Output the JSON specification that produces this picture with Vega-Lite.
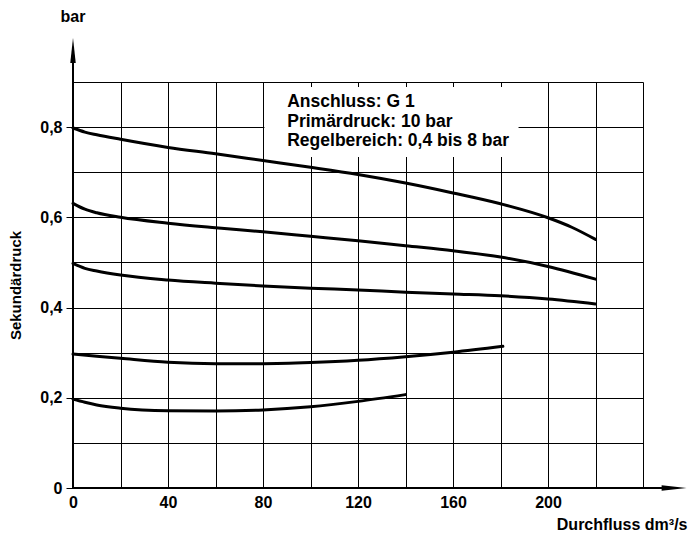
{
  "$schema": "https://vega.github.io/schema/vega-lite/v6.json",
  "width": 570,
  "height": 406,
  "autosize": {"type": "none"},
  "padding": {"left": 73, "top": 82, "right": 47, "bottom": 48},
  "background": "white",
  "config": {
    "view": {"stroke": null},
    "font": "Liberation Sans",
    "axis": {
      "labelFont": "Liberation Sans",
      "titleFont": "Liberation Sans",
      "labelFontWeight": "bold",
      "titleFontWeight": "bold",
      "labelFontSize": 16,
      "titleFontSize": 16,
      "labelColor": "black",
      "titleColor": "black",
      "gridColor": "black",
      "gridOpacity": 1,
      "gridWidth": 1,
      "domain": false
    }
  },
  "datasets": {
    "curves": [
      {"s": "a", "x": 0, "y": 0.798}, {"s": "a", "x": 5, "y": 0.789}, {"s": "a", "x": 10, "y": 0.783}, {"s": "a", "x": 20, "y": 0.773}, {"s": "a", "x": 40, "y": 0.755}, {"s": "a", "x": 60, "y": 0.741}, {"s": "a", "x": 80, "y": 0.726}, {"s": "a", "x": 100, "y": 0.711}, {"s": "a", "x": 120, "y": 0.695}, {"s": "a", "x": 140, "y": 0.676}, {"s": "a", "x": 160, "y": 0.654}, {"s": "a", "x": 180, "y": 0.630}, {"s": "a", "x": 200, "y": 0.599}, {"s": "a", "x": 210, "y": 0.578}, {"s": "a", "x": 220, "y": 0.551},
      {"s": "b", "x": 0, "y": 0.631}, {"s": "b", "x": 5, "y": 0.618}, {"s": "b", "x": 10, "y": 0.610}, {"s": "b", "x": 20, "y": 0.600}, {"s": "b", "x": 40, "y": 0.587}, {"s": "b", "x": 60, "y": 0.577}, {"s": "b", "x": 80, "y": 0.568}, {"s": "b", "x": 100, "y": 0.558}, {"s": "b", "x": 120, "y": 0.548}, {"s": "b", "x": 140, "y": 0.537}, {"s": "b", "x": 160, "y": 0.526}, {"s": "b", "x": 180, "y": 0.512}, {"s": "b", "x": 200, "y": 0.491}, {"s": "b", "x": 220, "y": 0.463},
      {"s": "c", "x": 0, "y": 0.498}, {"s": "c", "x": 5, "y": 0.487}, {"s": "c", "x": 10, "y": 0.481}, {"s": "c", "x": 20, "y": 0.472}, {"s": "c", "x": 40, "y": 0.461}, {"s": "c", "x": 60, "y": 0.454}, {"s": "c", "x": 80, "y": 0.448}, {"s": "c", "x": 100, "y": 0.443}, {"s": "c", "x": 120, "y": 0.439}, {"s": "c", "x": 140, "y": 0.434}, {"s": "c", "x": 160, "y": 0.430}, {"s": "c", "x": 180, "y": 0.426}, {"s": "c", "x": 200, "y": 0.419}, {"s": "c", "x": 220, "y": 0.408},
      {"s": "d", "x": 0, "y": 0.297}, {"s": "d", "x": 10, "y": 0.292}, {"s": "d", "x": 20, "y": 0.2875}, {"s": "d", "x": 40, "y": 0.279}, {"s": "d", "x": 60, "y": 0.2757}, {"s": "d", "x": 80, "y": 0.2755}, {"s": "d", "x": 100, "y": 0.278}, {"s": "d", "x": 120, "y": 0.283}, {"s": "d", "x": 140, "y": 0.291}, {"s": "d", "x": 160, "y": 0.301}, {"s": "d", "x": 181, "y": 0.314},
      {"s": "e", "x": 0, "y": 0.197}, {"s": "e", "x": 5, "y": 0.19}, {"s": "e", "x": 10, "y": 0.184}, {"s": "e", "x": 20, "y": 0.177}, {"s": "e", "x": 40, "y": 0.1715}, {"s": "e", "x": 60, "y": 0.1707}, {"s": "e", "x": 80, "y": 0.173}, {"s": "e", "x": 100, "y": 0.180}, {"s": "e", "x": 120, "y": 0.192}, {"s": "e", "x": 140, "y": 0.207}
    ],
    "box": [{"x": 80.6, "x2": 187.6, "y": 0.889, "y2": 0.734}],
    "notes": [
      {"x": 90.2, "y": 0.8454, "t": "Anschluss: G 1"},
      {"x": 90.2, "y": 0.801, "t": "Primärdruck: 10 bar"},
      {"x": 90.2, "y": 0.758, "t": "Regelbereich: 0,4 bis 8 bar"}
    ],
    "unit": [{"x": 0, "y": 1.033, "t": "bar"}],
    "axlines": [
      {"x": 0, "x2": 248, "y": 0, "y2": 0},
      {"x": 0, "x2": 0, "y": 0, "y2": 0.942}
    ],
    "arrows": [
      {"x": 0, "y": 0.970, "dir": "up"},
      {"x": 253.1, "y": 0, "dir": "right"}
    ]
  },
  "encoding": {
    "x": {
      "field": "x", "type": "quantitative",
      "scale": {"domain": [0, 240], "nice": false, "zero": false},
      "axis": {
        "values": [0, 20, 40, 60, 80, 100, 120, 140, 160, 180, 200, 220, 240],
        "labelExpr": "datum.value % 40 == 0 && datum.value <= 200 ? datum.label : ''",
        "ticks": false,
        "labelPadding": 6,
        "labelFlush": false,
        "grid": true,
        "title": "Durchfluss dm³/s",
        "titleX": 614,
        "titleY": 41,
        "titleAlign": "right",
        "titleBaseline": "alphabetic",
        "titleAnchor": null
      }
    },
    "y": {
      "field": "y", "type": "quantitative",
      "scale": {"domain": [0, 0.9], "nice": false, "zero": false},
      "axis": {
        "values": [0, 0.1, 0.2, 0.3, 0.4, 0.5, 0.6, 0.7, 0.8, 0.9],
        "labelExpr": "round(datum.value*10) == 0 ? '0' : (round(datum.value*10) % 2 == 0 && datum.value < 0.85 ? replace(format(datum.value, '.1f'), '.', ',') : '')",
        "tickColor": {"condition": {"test": "round(datum.value*10) % 2 == 0 && datum.value < 0.85", "value": "black"}, "value": "transparent"},
        "tickSize": 7,
        "tickWidth": 1,
        "labelPadding": 4,
        "labelFlush": false,
        "grid": true,
        "title": "Sekundärdruck",
        "titleX": -58,
        "titleY": 203,
        "titleAngle": -90,
        "titleAlign": "center",
        "titleBaseline": "middle",
        "titleFontSize": 15
      }
    }
  },
  "layer": [
    {
      "data": {"name": "box"},
      "mark": {"type": "rect", "fill": "white", "stroke": null},
      "encoding": {"x2": {"field": "x2"}, "y2": {"field": "y2"}}
    },
    {
      "data": {"name": "curves"},
      "mark": {"type": "line", "color": "black", "strokeWidth": 3, "interpolate": "monotone", "strokeCap": "round"},
      "encoding": {"detail": {"field": "s"}}
    },
    {
      "data": {"name": "notes"},
      "mark": {"type": "text", "align": "left", "baseline": "alphabetic", "fontSize": 17.5, "fontWeight": "bold", "font": "Liberation Sans", "color": "black"},
      "encoding": {"text": {"field": "t"}}
    },
    {
      "data": {"name": "unit"},
      "mark": {"type": "text", "align": "center", "baseline": "alphabetic", "fontSize": 16, "fontWeight": "bold", "font": "Liberation Sans", "color": "black", "clip": false},
      "encoding": {"text": {"field": "t"}}
    },
    {
      "data": {"name": "axlines"},
      "mark": {"type": "rule", "color": "black", "strokeWidth": 2, "clip": false},
      "encoding": {"x2": {"field": "x2"}, "y2": {"field": "y2"}}
    },
    {
      "data": {"name": "arrows"},
      "transform": [{"filter": "datum.dir == 'up'"}],
      "mark": {"type": "point", "shape": "M0,-1L0.22,1L-0.22,1Z", "size": 625, "filled": true, "color": "black", "opacity": 1, "clip": false},
      "encoding": {}
    },
    {
      "data": {"name": "arrows"},
      "transform": [{"filter": "datum.dir == 'right'"}],
      "mark": {"type": "point", "shape": "M1,0L-1,0.22L-1,-0.22Z", "size": 625, "filled": true, "color": "black", "opacity": 1, "clip": false},
      "encoding": {}
    }
  ]
}
